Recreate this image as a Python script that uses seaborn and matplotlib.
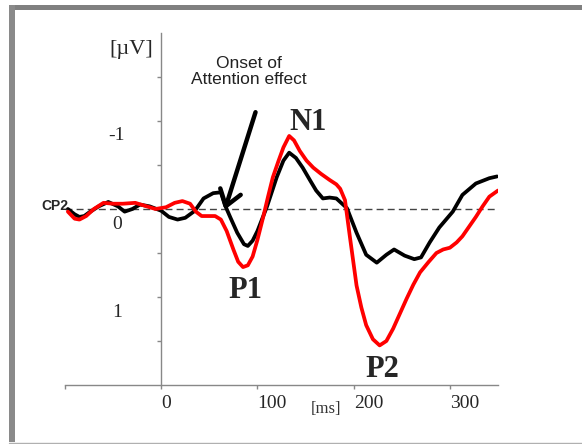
import numpy as np
import matplotlib.pyplot as plt
import seaborn as sns
from matplotlib.transforms import ScaledTranslation
from matplotlib.patches import Rectangle
from matplotlib.lines import Line2D

sns.set_style('white')
plt.rcParams['font.family'] = ['Liberation Serif', 'DejaVu Serif']

# --- ERP waveforms at CP2 (ms, microvolts; negative plotted up) ---
t_black = [-97, -90, -85, -80, -75, -65, -55, -45, -38, -30, -22, -12, 0, 8, 17, 25, 35,
           44, 54, 62, 66, 72, 79, 86, 90, 95, 100, 110, 120, 127, 133, 140, 147, 155,
           161, 168, 175, 182, 188, 193, 203, 213, 224, 234, 242, 253, 263, 270, 279,
           289, 303, 313, 327, 341, 349]
v_black = [0.00, 0.06, 0.09, 0.08, 0.04, -0.03, -0.08, -0.03, 0.03, 0.00, -0.05, -0.03,
           0.02, 0.09, 0.12, 0.10, 0.02, -0.12, -0.18, -0.19, -0.05, 0.10, 0.27, 0.40,
           0.42, 0.36, 0.25, -0.03, -0.36, -0.55, -0.64, -0.58, -0.47, -0.32, -0.21,
           -0.12, -0.13, -0.12, -0.06, -0.01, 0.27, 0.52, 0.61, 0.52, 0.46, 0.53, 0.57,
           0.55, 0.38, 0.21, 0.03, -0.16, -0.29, -0.35, -0.37]

t_red = [-97, -90, -85, -78, -70, -60, -50, -40, -27, -15, -6, 5, 14, 22, 30, 36, 42, 50,
         56, 62, 68, 75, 80, 85, 90, 95, 100, 106, 111, 116, 122, 127, 133, 138, 144,
         151, 158, 166, 175, 182, 186, 191, 196, 203, 208, 213, 220, 227, 234, 241, 248,
         255, 262, 269, 278, 286, 293, 300, 307, 313, 320, 327, 334, 341, 350]
v_red = [0.03, 0.11, 0.12, 0.08, 0.00, -0.07, -0.06, -0.06, -0.07, -0.03, 0.00, -0.02,
         -0.07, -0.09, -0.06, 0.03, 0.08, 0.08, 0.08, 0.12, 0.25, 0.46, 0.60, 0.66, 0.64,
         0.54, 0.35, 0.09, -0.14, -0.36, -0.55, -0.70, -0.83, -0.78, -0.66, -0.55, -0.47,
         -0.40, -0.33, -0.28, -0.23, -0.10, 0.31, 0.87, 1.12, 1.32, 1.48, 1.55, 1.50,
         1.36, 1.19, 1.02, 0.86, 0.72, 0.60, 0.50, 0.46, 0.44, 0.38, 0.31, 0.20, 0.09,
         -0.03, -0.14, -0.21]

x_ticks = [-100, 0, 100, 200, 300]
x_tick_labels = ['', '0', '100', '200', '300']
y_ticks = [-1.5, -1, -0.5, 0, 0.5, 1, 1.5]
y_tick_labels = ['', '-1', '', '0', '', '1', '']

fig = plt.figure(figsize=(5.82, 4.44), dpi=100)
ax = fig.add_axes([65 / 582, 59 / 444, 433 / 582, 352 / 444])

ax.axhline(0, color='#444444', lw=1, ls=(0, (5, 3)), zorder=1)
sns.lineplot(x=t_black, y=v_black, color='black', lw=2.7, ax=ax, zorder=3)
sns.lineplot(x=t_red, y=v_red, color='#ff0000', lw=2.7, ax=ax, zorder=4)

ax.set_xlim(-100, 350)
ax.set_ylim(2, -2)
ax.set_xlabel('')
ax.set_ylabel('')

for s in ['top', 'right']:
    ax.spines[s].set_visible(False)
ax.spines['left'].set_position(('data', 0))
for s in ['left', 'bottom']:
    ax.spines[s].set_color('#888888')
    ax.spines[s].set_linewidth(1)

ax.set_xticks(x_ticks)
ax.set_xticklabels(x_tick_labels, fontsize=14, ha='left')
ax.set_yticks(y_ticks)
ax.set_yticklabels(y_tick_labels, fontsize=14)
ax.tick_params(axis='x', direction='out', length=3, width=1, color='#888888', pad=4,
               bottom=True)
ax.tick_params(axis='y', direction='out', length=3, width=1, color='#888888', pad=29,
               left=True)
shift = ScaledTranslation(0, -13 / 100, fig.dpi_scale_trans)
for lab in ax.get_yticklabels():
    lab.set_ha('center')
    lab.set_transform(lab.get_transform() + shift)

# annotations
ax.text(-31, -1.81, '[\u00b5V]', ha='center', va='center', fontsize=16)
ax.text(171, 2.27, '[ms]', ha='center', va='center', fontsize=12, color='#333333',
        clip_on=False)
ax.text(-111, -0.03, 'CP2', ha='center', va='center', fontsize=10, fontweight='bold',
        family=['Liberation Sans', 'DejaVu Sans'], clip_on=False)
ax.text(91, -1.56, 'Onset of\nAttention effect', ha='center', va='center', fontsize=12.5,
        family=['Liberation Sans', 'DejaVu Sans'], color='#222222', linespacing=1.05)
ax.text(153, -0.98, 'N1', ha='center', va='center', fontsize=22, fontweight='bold')
ax.text(88, 0.93, 'P1', ha='center', va='center', fontsize=22, fontweight='bold')
ax.text(230, 1.82, 'P2', ha='center', va='center', fontsize=22, fontweight='bold')
ax.annotate('', xy=(66, 0.01), xytext=(98, -1.10),
            arrowprops=dict(arrowstyle='->,head_length=0.5,head_width=0.35', lw=3.2,
                            color='black', mutation_scale=22, shrinkA=0, shrinkB=0),
            zorder=5)

# gray picture frame
fig.add_artist(Rectangle((9 / 582, (444 - 10) / 444), 573 / 582, 5 / 444,
                         transform=fig.transFigure, color='#808080', lw=0))
fig.add_artist(Rectangle((9 / 582, (444 - 442) / 444), 6 / 582, 437 / 444,
                         transform=fig.transFigure, color='#8a8a8a', lw=0))
fig.add_artist(Line2D([9 / 582, 1], [(444 - 442.5) / 444] * 2,
                      transform=fig.transFigure, color='#b0b0b0', lw=1))

fig.savefig('out.png', dpi=100, facecolor='white')
